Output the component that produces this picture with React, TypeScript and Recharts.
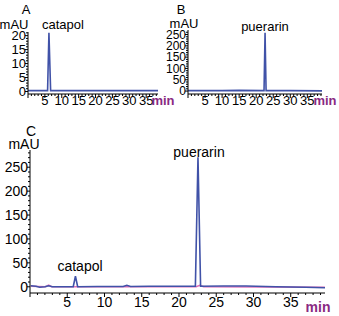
import React from 'react';
import { LineChart, Line, XAxis, YAxis } from 'recharts';

// panel A: catapol standard
const aTime = [0, 5.8, 6.2, 6.7, 38.5];
const aValue = [0.3, 0.3, 21, 0.3, 0.3];

// panel B: puerarin standard
const bTime = [0, 10, 15, 22.3, 22.6, 22.9, 30, 39.3];
const bValue = [2, 2, 3, 2, 258, 2, 2, 1];

// panel C: sample (blue) and reference trace (pink)
const cTime = [0.1, 0.8, 1.3, 2.0, 2.5, 3.0, 5.8, 6.1, 6.4, 9, 12.5, 13.0, 13.5, 16, 22.2, 22.55, 22.9, 26, 29, 33, 37, 39.6];
const cValue = [2, 1, -1, 0, 2, 0, 0, 22, 0, 0.5, 0.5, 3, 0.5, 1, 1, 271, 1, 1.5, 1.5, 0, -1, -2];
const cRefTime = [0.1, 2.1, 2.5, 2.9, 6, 22.3, 22.8, 23.3, 39.6];
const cRefValue = [1, 0, 3.5, 0, 0, 0, 3, 0, -1];

const aTicksX = Array.from({ length: 39 }, (_, i) => i);
const bTicksX = Array.from({ length: 40 }, (_, i) => i);
const cTicksX = Array.from({ length: 40 }, (_, i) => i);
const aTicksY = Array.from({ length: 22 }, (_, i) => i);
const bTicksY = Array.from({ length: 27 }, (_, i) => i * 10);
const cTicksY = Array.from({ length: 29 }, (_, i) => i * 10);

const toRows = (t: number[], v: number[]) => t.map((time, i) => ({ time, mAU: v[i] }));

const FONT = '"Liberation Sans", Arial, sans-serif';
const BLUE = '#4052a8';
const PINK = '#e070b8';
const PURPLE = '#8a2a82';

const makeXTick = (step: number, fontSize: number, gap: number) => (props: any) => {
  const { x, y, payload } = props;
  const v = payload.value;
  const major = v % step === 0;
  return (
    <g>
      <line x1={x} x2={x} y1={y} y2={y + (major ? 4 : 2)} stroke="#000" strokeWidth={1} />
      {major && v > 0 && (
        <text x={x} y={y + gap + fontSize * 0.72} textAnchor="middle" fontSize={fontSize} fontFamily={FONT} fill="#000">
          {v}
        </text>
      )}
    </g>
  );
};

const makeYTick = (step: number, fontSize: number) => (props: any) => {
  const { x, y, payload } = props;
  const v = payload.value;
  const major = v % step === 0;
  return (
    <g>
      <line x1={x - (major ? 3 : 2)} x2={x} y1={y} y2={y} stroke="#000" strokeWidth={1} />
      {major && (
        <text x={x - 2} y={y + fontSize * 0.36} textAnchor="end" fontSize={fontSize} fontFamily={FONT} fill="#000">
          {v}
        </text>
      )}
    </g>
  );
};

const txt = (x: number, y: number, s: string, size: number, color = '#000', weight = 'normal') => (
  <text x={x} y={y} textAnchor="middle" fontSize={size} fontWeight={weight} fontFamily={FONT} fill={color}>{s}</text>
);

export default function App() {
  return (
    <div style={{ position: 'absolute', left: 0, top: 0, width: 339, height: 316, background: '#fff' }}>
      <div style={{ position: 'absolute', left: 0, top: 0 }}>
        <LineChart width={170} height={114} margin={{ top: 32, right: 12, bottom: 0, left: 0 }}>
          <XAxis dataKey="time" type="number" domain={[0, 38.5]} ticks={aTicksX} interval={0}
            tick={makeXTick(5, 13, 2)} tickLine={false} tickSize={0} tickMargin={0} height={20} stroke="#000" allowDataOverflow />
          <YAxis type="number" domain={[-0.9, 21.3]} ticks={aTicksY} interval={0}
            tick={makeYTick(5, 13)} tickLine={false} tickSize={0} tickMargin={0} width={28} stroke="#000" allowDataOverflow />
          <Line data={toRows(aTime, aValue)} dataKey="mAU" stroke={BLUE} strokeWidth={1.6} dot={false} type="linear" isAnimationActive={false} />
        </LineChart>
      </div>
      <div style={{ position: 'absolute', left: 165, top: 0 }}>
        <LineChart width={174} height={114} margin={{ top: 30, right: 17, bottom: 0, left: 0 }}>
          <XAxis dataKey="time" type="number" domain={[0, 39.3]} ticks={bTicksX} interval={0}
            tick={makeXTick(5, 13, 2)} tickLine={false} tickSize={0} tickMargin={0} height={20} stroke="#000" allowDataOverflow />
          <YAxis type="number" domain={[-13, 270]} ticks={bTicksY} interval={0}
            tick={makeYTick(50, 12)} tickLine={false} tickSize={0} tickMargin={0} width={23} stroke="#000" allowDataOverflow />
          <Line data={toRows(bTime, bValue)} dataKey="mAU" stroke={BLUE} strokeWidth={1.6} dot={false} type="linear" isAnimationActive={false} />
        </LineChart>
      </div>
      <div style={{ position: 'absolute', left: 0, top: 115 }}>
        <LineChart width={339} height={201} margin={{ top: 35, right: 14, bottom: 0, left: 0 }}>
          <XAxis dataKey="time" type="number" domain={[0, 39.6]} ticks={cTicksX} interval={0}
            tick={makeXTick(5, 14, 4)} tickLine={false} tickSize={0} tickMargin={0} height={23} stroke="#000" allowDataOverflow />
          <YAxis type="number" domain={[-13, 286]} ticks={cTicksY} interval={0}
            tick={makeYTick(50, 14)} tickLine={false} tickSize={0} tickMargin={0} width={30} stroke="#000" allowDataOverflow />
          <Line data={toRows(cRefTime, cRefValue)} dataKey="mAU" stroke={PINK} strokeWidth={1.6} dot={false} type="linear" isAnimationActive={false} />
          <Line data={toRows(cTime, cValue)} dataKey="mAU" stroke={BLUE} strokeWidth={1.6} dot={false} type="linear" isAnimationActive={false} />
        </LineChart>
      </div>
      <svg width={339} height={316} style={{ position: 'absolute', left: 0, top: 0, pointerEvents: 'none' }}>
        {txt(26, 14, 'A', 13)}
        {txt(14, 29, 'mAU', 13)}
        {txt(63, 29, 'catapol', 13)}
        {txt(163, 105, 'min', 13, PURPLE, 'bold')}
        {txt(181, 14, 'B', 13)}
        {txt(184, 28, 'mAU', 13)}
        {txt(265, 31, 'puerarin', 13)}
        {txt(325, 105, 'min', 13, PURPLE, 'bold')}
        {txt(31, 136, 'C', 14)}
        {txt(24, 149, 'mAU', 14)}
        {txt(199, 157, 'puerarin', 14)}
        {txt(80, 271, 'catapol', 14)}
        {txt(318, 312, 'min', 14, PURPLE, 'bold')}
      </svg>
    </div>
  );
}
